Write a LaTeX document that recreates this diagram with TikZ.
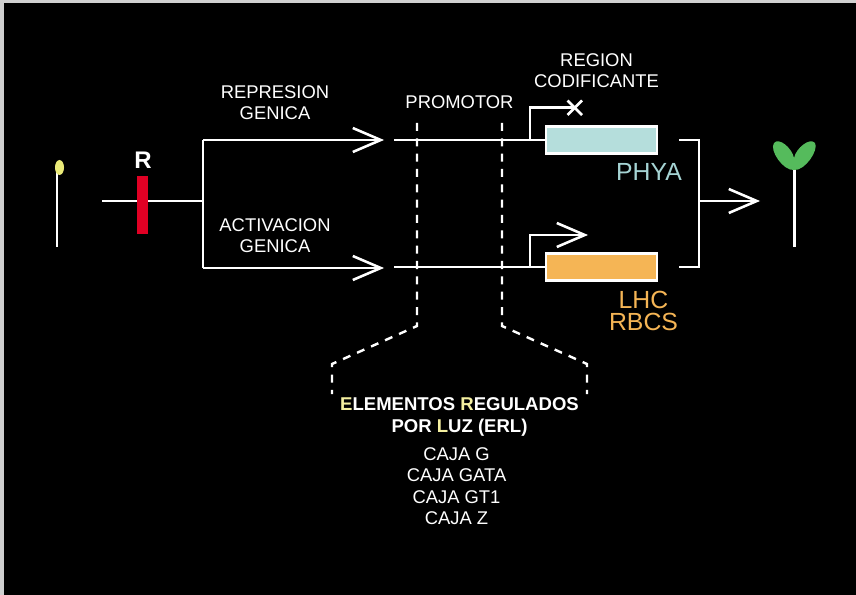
\documentclass[tikz,border=0pt]{standalone}
\usepackage{fontspec}
\setmainfont{Liberation Sans}
\definecolor{edgegray}{HTML}{D0D0D0}
\definecolor{phyac}{HTML}{B5DEDC}
\definecolor{phyat}{HTML}{A5D3D3}
\definecolor{lhcc}{HTML}{F5B555}
\definecolor{redbar}{HTML}{E00024}
\definecolor{leafg}{HTML}{55BB5C}
\definecolor{budy}{HTML}{EAEA78}
\definecolor{yel}{HTML}{F5F0A0}
\usetikzlibrary{arrows.meta}
\tikzset{
  wire/.style={draw=white,line width=1.9pt,line join=miter},
  arrowtip/.style={-{Straight Barb[length=21pt,width=18pt,line width=1.9pt]}},
  arrowline/.style={wire,arrowtip},
  dashline/.style={draw=white,line width=1.8pt,dash pattern=on 6pt off 5.5pt},
  genebox/.style={draw=white,line width=1.9pt,minimum width=83.5pt,minimum height=20pt,inner sep=0pt},
  lab/.style={text=white,font=\fontsize{13.8pt}{16pt}\selectfont,align=center,inner sep=0pt},
  blab/.style={text=white,font=\fontsize{13.9pt}{16.4pt}\selectfont\bfseries,align=center,inner sep=0pt},
  glab/.style={font=\fontsize{18.6pt}{16.5pt}\selectfont,align=center,inner sep=0pt},
}
\begin{document}
\begin{tikzpicture}[x=0.75pt,y=-0.75pt]
\useasboundingbox (0,0) rectangle (856,595);
\fill[edgegray] (0,0) rectangle (856,595);
\fill[black] (3.5,3.5) rectangle (856,595);
% seedling left
\coordinate (st1) at (57,168); \coordinate (st2) at (57,247);
\draw[wire] (st1) -- (st2);
\fill[budy] (59.5,167.5) ellipse (4.5 and 7.5);
% receptor
\coordinate (in) at (102,201); \coordinate (sp) at (203,201);
\coordinate (spT) at (203,140); \coordinate (spB) at (203,268);
\coordinate (a1) at (384,140); \coordinate (a2) at (384,268);
\draw[wire] (in) -- (sp);
\node[fill=redbar,minimum width=8.2pt,minimum height=43.5pt,inner sep=0pt] (rbar) at (142.5,205) {};
\node[text=white,font=\fontsize{18pt}{18pt}\selectfont\bfseries,inner sep=0pt] (R) at (143,160.5) {R};
\draw[wire] (spT) -- (spB);
\draw[arrowline] (spT) -- (a1);
\draw[arrowline] (spB) -- (a2);
\node[lab] (rep) at (275,103) {REPRESION\\GENICA};
\node[lab] (act) at (275,235.5) {ACTIVACION\\GENICA};
\node[lab] (prom) at (459.5,102) {PROMOTOR};
\node[lab] (reg) at (596.5,71) {REGION\\CODIFICANTE};
% gene boxes
\node[genebox,fill=phyac] (phya) at (601.5,140) {};
\node[genebox,fill=lhcc] (lhc) at (601.5,267) {};
\coordinate (p0) at (394,140); \coordinate (q0) at (394,267);
\draw[wire] (p0) -- (phya.west);
\draw[wire] (q0) -- (lhc.west);
% TSS
\coordinate (ts1) at (530,140); \coordinate (ts1u) at (530,107.5); \coordinate (xc) at (575,107.5);
\draw[wire] (ts1) -- (ts1u) -- (xc);
\draw[white,line width=2pt] (567.5,100.5) -- (582,115);
\draw[white,line width=2pt] (582,100.5) -- (567.5,115);
\coordinate (ts2) at (530,267); \coordinate (ts2u) at (530,235); \coordinate (ar) at (588,235);
\draw[wire,arrowtip] (ts2) -- (ts2u) -- (ar);
\node[glab,text=phyat] (phyat) at (649,172) {PHYA};
\node[glab,text=lhcc] (lhct) at (643.5,311) {LHC\\RBCS};
% output bracket
\coordinate (bT) at (679,140); \coordinate (bTc) at (699,140);
\coordinate (bB) at (679,267); \coordinate (bBc) at (699,267);
\coordinate (bm) at (699,201); \coordinate (out) at (760,201);
\draw[wire] (bT) -- (bTc) -- (bBc) -- (bB);
\draw[arrowline] (bm) -- (out);
% seedling right
\coordinate (s1) at (794.5,168); \coordinate (s2) at (794.5,247);
\draw[wire] (s1) -- (s2);
\fill[leafg] (794,170) .. controls (783,171) and (769,150) .. (774,143) .. controls (779,137) and (792,148) .. (794,158) .. controls (796,148) and (810,137) .. (815,143) .. controls (819,150) and (805,171) .. (794,170) -- cycle;
% dashed promoter lines
\draw[dashline] (417,123) -- (417,326) -- (332,364) -- (332,394);
\draw[dashline] (502,123) -- (502,326) -- (587,364) -- (587,394);
% labels below
\node[blab] (erl) at (459.5,417) {\textcolor{yel}{E}LEMENTOS \textcolor{yel}{R}EGULADOS\\POR \textcolor{yel}{L}UZ (ERL)};
\node[lab] (cajas) at (456.5,486) {CAJA G\\CAJA GATA\\CAJA GT1\\CAJA Z};
\end{tikzpicture}
\end{document}
